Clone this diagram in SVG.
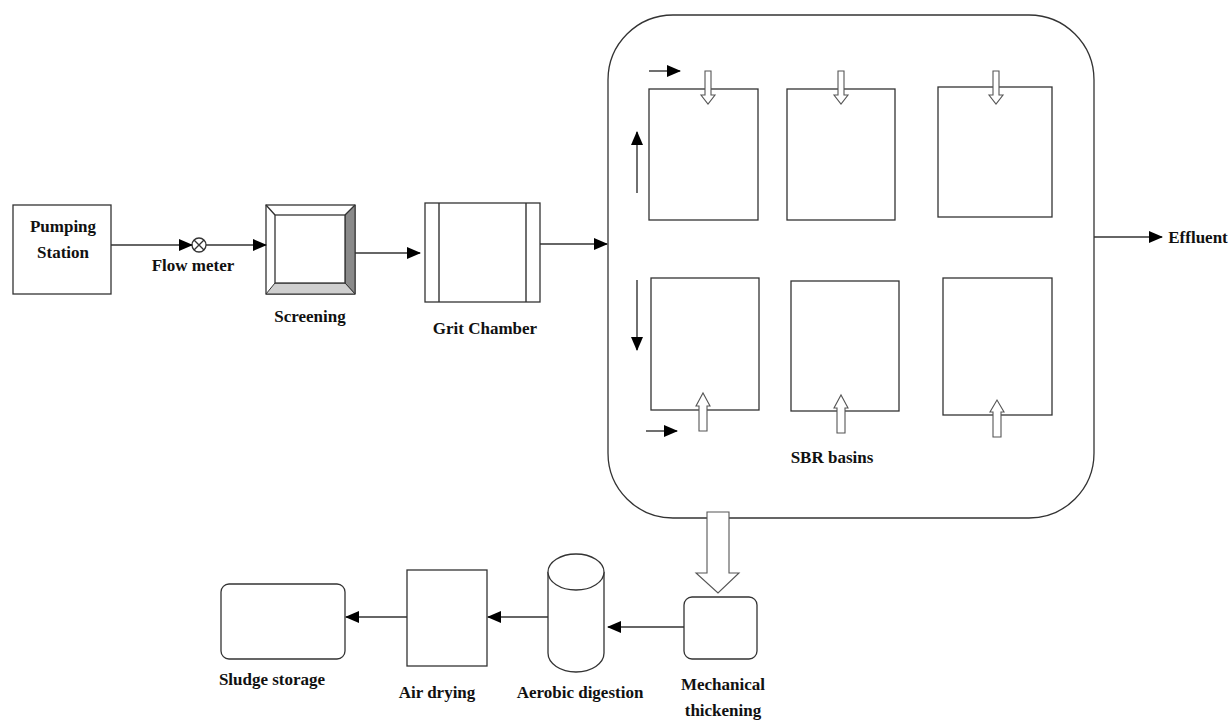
<svg xmlns="http://www.w3.org/2000/svg" width="1231" height="720" viewBox="0 0 1231 720">
<style>
.s{fill:#fff;stroke:#333;stroke-width:1.3}
.l{fill:none;stroke:#333;stroke-width:1.4}
.h{fill:#fff;stroke:#555;stroke-width:1.1}
.t{font-family:"Liberation Serif",serif;font-weight:bold;font-size:17px;fill:#111;text-anchor:middle}
</style>
<defs>
<marker id="a" markerUnits="userSpaceOnUse" markerWidth="14" markerHeight="12" viewBox="0 0 14 12" refX="13" refY="6" orient="auto"><path d="M0,0 L14,6 L0,12 Z" fill="#000"/></marker>
</defs>
<rect width="1231" height="720" fill="#fff"/>
<g id="pumping">
<rect class="s" x="13" y="205" width="98" height="89"/>
<text class="t" x="63" y="232">Pumping</text>
<text class="t" x="63" y="258">Station</text>
</g>
<g id="flowmeter">
<circle class="s" cx="199" cy="245" r="7"/>
<path class="l" d="M194,240 L204,250 M204,240 L194,250" stroke-width="1"/>
<text class="t" x="193" y="271">Flow meter</text>
</g>
<g id="screening">
<rect class="s" x="266" y="205" width="89" height="89"/>
<path d="M355,205 L355,294 L345,283 L345,215 Z" fill="#8a8a8a" stroke="#333" stroke-width="1"/>
<path d="M266,294 L355,294 L345,283 L275,283 Z" fill="#cfcfcf" stroke="#333" stroke-width="1"/>
<path class="l" d="M266,205 L275,215 M355,205 L345,215" stroke-width="1"/>
<rect class="s" x="275" y="215" width="70" height="68" stroke-width="1.6"/>
<text class="t" x="310" y="322">Screening</text>
</g>
<g id="grit">
<rect class="s" x="425" y="203" width="115" height="99"/>
<path class="l" d="M439,203 V302 M526,203 V302"/>
<text class="t" x="485" y="334">Grit Chamber</text>
</g>
<g id="sbr">
<rect class="s" x="608" y="15" width="486" height="503" rx="65" ry="65"/>
<rect class="s" x="649" y="89" width="109" height="131"/>
<rect class="s" x="787" y="89" width="108" height="131"/>
<rect class="s" x="938" y="87" width="114" height="130"/>
<rect class="s" x="651" y="278" width="108" height="132"/>
<rect class="s" x="791" y="281" width="108" height="130"/>
<rect class="s" x="943" y="278" width="109" height="137"/>
<path class="h" d="M705,71 H711 V95 H715 L708,104 L701,95 H705 Z"/>
<path class="h" d="M838,71 H844 V95 H848 L841,104 L834,95 H838 Z"/>
<path class="h" d="M993,71 H999 V95 H1003 L996,104 L989,95 H993 Z"/>
<path class="h" d="M699,431 H707 V406 H710 L703,393 L696,406 H699 Z"/>
<path class="h" d="M837,433 H845 V408 H848 L841,395 L834,408 H837 Z"/>
<path class="h" d="M993,437 H1001 V412 H1004 L997,400 L990,412 H993 Z"/>
<path class="l" d="M649,71 H680" marker-end="url(#a)"/>
<path class="l" d="M637,193 V132" marker-end="url(#a)"/>
<path class="l" d="M637,280 V350" marker-end="url(#a)"/>
<path class="l" d="M646,431 H677" marker-end="url(#a)"/>
<text class="t" x="832" y="463">SBR basins</text>
</g>
<g id="effluent">
<text class="t" x="1198" y="243">Effluent</text>
</g>
<g id="mechanical">
<rect class="s" x="684" y="597" width="73" height="62" rx="8" ry="8"/>
<text class="t" x="723" y="690">Mechanical</text>
<text class="t" x="723" y="716">thickening</text>
</g>
<g id="aerobic">
<path class="s" d="M548,572 V653 A28,19 0 0 0 604,653 V572"/>
<ellipse class="s" cx="576" cy="572" rx="28" ry="18"/>
<text class="t" x="580" y="698">Aerobic digestion</text>
</g>
<g id="airdrying">
<rect class="s" x="407" y="570" width="80" height="96"/>
<text class="t" x="437" y="698">Air drying</text>
</g>
<g id="sludge">
<rect class="s" x="221" y="584" width="124" height="75" rx="8" ry="8"/>
<text class="t" x="272" y="685">Sludge storage</text>
</g>
<g id="connectors">
<path class="l" d="M111,245 H192" marker-end="url(#a)"/>
<path class="l" d="M206,245 H266" marker-end="url(#a)"/>
<path class="l" d="M355,253 H420" marker-end="url(#a)"/>
<path class="l" d="M540,244 H607" marker-end="url(#a)"/>
<path class="l" d="M1094,237 H1162" marker-end="url(#a)"/>
<path class="h" d="M707,512 H729 V573 H739 L718,593 L696,573 H707 Z" stroke="#444"/>
<path class="l" d="M684,627 H608" marker-end="url(#a)"/>
<path class="l" d="M548,617 H488" marker-end="url(#a)"/>
<path class="l" d="M407,617 H346" marker-end="url(#a)"/>
</g>
</svg>
